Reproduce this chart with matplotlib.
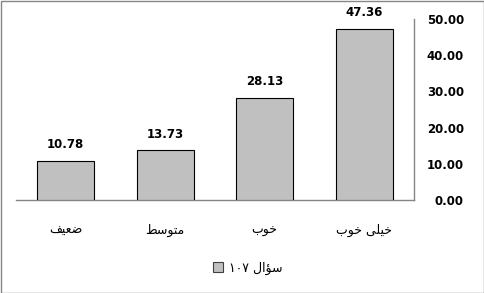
import matplotlib
matplotlib.use("Agg")
import matplotlib.pyplot as plt
from matplotlib.patches import Rectangle, Patch

# --- data -----------------------------------------------------------------
categories = ["ضعیف", "متوسط", "خوب", "خیلی خوب"]
values = [10.78, 13.73, 28.13, 47.36]
series_name = "سؤال ۱۰۷"
yticks = [0, 10, 20, 30, 40, 50]
# ---------------------------------------------------------------------------

# minimal Arabic-script shaping (presentation forms: iso, fin, ini, med)
FORMS = {
    "ض": "\uFEBD\uFEBE\uFEBF\uFEC0",
    "ع": "\uFEC9\uFECA\uFECB\uFECC",
    "ی": "\uFBFC\uFBFD\uFBFE\uFBFF",
    "ف": "\uFED1\uFED2\uFED3\uFED4",
    "م": "\uFEE1\uFEE2\uFEE3\uFEE4",
    "ت": "\uFE95\uFE96\uFE97\uFE98",
    "و": "\uFEED\uFEEE\uFEED\uFEEE",
    "س": "\uFEB1\uFEB2\uFEB3\uFEB4",
    "ط": "\uFEC1\uFEC2\uFEC3\uFEC4",
    "خ": "\uFEA5\uFEA6\uFEA7\uFEA8",
    "ب": "\uFE8F\uFE90\uFE91\uFE92",
    "ل": "\uFEDD\uFEDE\uFEDF\uFEE0",
    "ؤ": "\uFE85\uFE86\uFE85\uFE86",
    "ا": "\uFE8D\uFE8E\uFE8D\uFE8E",
}
RIGHT_ONLY = set("وؤا")


def shape_word(word):
    if word.isdigit():
        return word
    out = []
    for i, c in enumerate(word):
        f = FORMS.get(c)
        if f is None:
            out.append(c)
            continue
        prev = word[i - 1] if i > 0 else None
        nxt = word[i + 1] if i + 1 < len(word) else None
        jp = prev in FORMS and prev not in RIGHT_ONLY
        jn = c not in RIGHT_ONLY and nxt in FORMS
        out.append(f[{(0, 0): 0, (1, 0): 1, (0, 1): 2, (1, 1): 3}[(jp, jn)]])
    return "".join(reversed(out))


def rtl(text):
    return " ".join(shape_word(w) for w in reversed(text.split(" ")))


fig = plt.figure(figsize=(4.85, 2.93), dpi=100)
W, H = 485, 293
ax = fig.add_axes([16 / W, 93 / H, 398 / W, 181 / H])

x = list(range(len(categories)))
ax.bar(x, values, width=0.57, color="#C0C0C0", edgecolor="black", linewidth=0.8,
       label=rtl(series_name), zorder=3)
for xi, v in zip(x, values):
    ax.annotate(f"{v:.2f}", (xi, v), xytext=(0, 7), textcoords="offset points",
                ha="center", va="bottom", fontsize=8.5, fontweight="bold")

ax.set_xlim(-0.5, len(categories) - 0.5)
ax.set_ylim(0, 50)
ax.set_xticks(x)
ax.set_xticklabels([rtl(c) for c in categories], fontsize=9, family=["DejaVu Sans"])
ax.tick_params(axis="x", length=0, pad=17)
ax.yaxis.tick_right()
ax.set_yticks(yticks)
ax.set_yticklabels([f"{t:.2f}" for t in yticks], fontsize=8.5, fontweight="bold")
ax.tick_params(axis="y", length=0, pad=36)
for lab in ax.get_yticklabels():
    lab.set_horizontalalignment("right")

for s in ("top", "left"):
    ax.spines[s].set_visible(False)
for s in ("right", "bottom"):
    ax.spines[s].set_color("#868686")
    ax.spines[s].set_linewidth(1)

handle = Patch(facecolor="#C0C0C0", edgecolor="#404040", linewidth=0.8)
fig.legend([handle], [rtl(series_name)], loc="center", bbox_to_anchor=(248 / W, 1 - 268 / H),
           frameon=False, handlelength=0.8, handleheight=0.8, handletextpad=0.5,
           prop={"family": ["DejaVu Sans"], "size": 9})

fig.patches.append(Rectangle((0.5 / W, 0.5 / H), 1 - 1.5 / W, 1 - 1.5 / H,
                             transform=fig.transFigure, fill=False,
                             edgecolor="#868686", linewidth=1))

fig.savefig("out.png", dpi=100)
